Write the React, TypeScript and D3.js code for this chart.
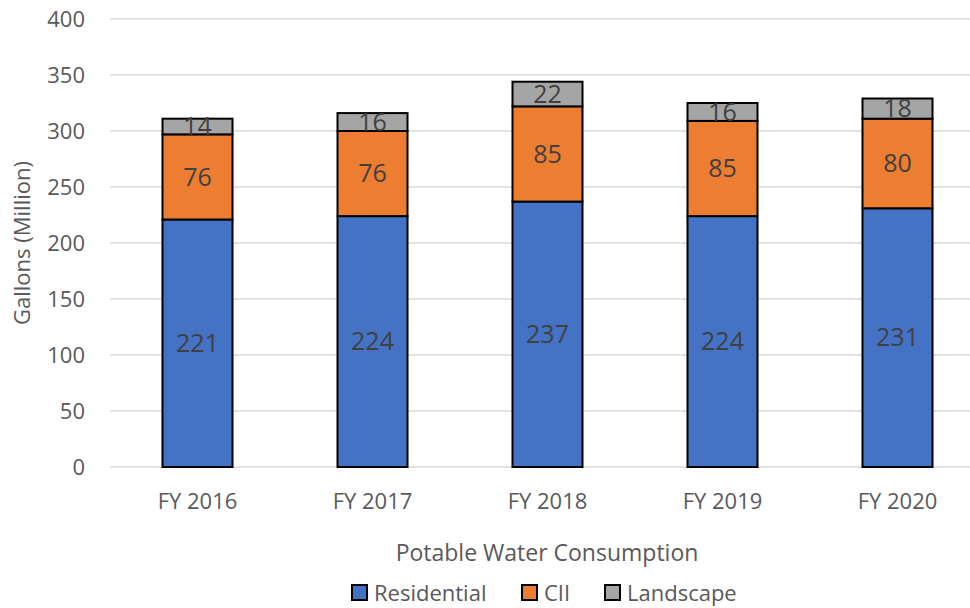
import React from "react";
import * as d3 from "d3";

const categories = ["FY 2016", "FY 2017", "FY 2018", "FY 2019", "FY 2020"];
const residential = [221, 224, 237, 224, 231];
const cii = [76, 76, 85, 85, 80];
const landscape = [14, 16, 22, 16, 18];
const seriesNames = ["Residential", "CII", "Landscape"];
const seriesColors = ["#4472C4", "#ED7D31", "#A5A5A5"];
const yTicks = [0, 50, 100, 150, 200, 250, 300, 350, 400];

const W = 970;
const H = 608;
const FONT = "'Open Sans', 'Noto Sans', sans-serif";

export default function App() {
  const x = d3.scaleBand<string>().domain(categories).range([110, 985]).paddingInner(0.6).paddingOuter(0.3);
  const y = d3.scaleLinear().domain([0, 400]).range([467, 19]);
  const rows = categories.map((c, i) => ({ cat: c, Residential: residential[i], CII: cii[i], Landscape: landscape[i] }));
  const stack = d3.stack<any>().keys(seriesNames)(rows);

  const legendX = [352, 522, 605];

  return (
    <svg width={W} height={H} style={{ position: "absolute", left: 0, top: 0, background: "#fff" }}>
      {yTicks.map((t) => (
        <g key={t}>
          <line x1={110} x2={970} y1={y(t)} y2={y(t)} stroke="#d9d9d9" strokeWidth={1.5} />
          <text x={85} y={y(t)} dy="0.35em" textAnchor="end" fontSize={22} fill="#595959" fontFamily={FONT}>
            {t}
          </text>
        </g>
      ))}
      {stack.map((s, si) => (
        <g key={s.key}>
          {s.map((d, i) => {
            const x0 = x(categories[i])!;
            const top = y(d[1]);
            const bot = y(d[0]);
            const val = d[1] - d[0];
            return (
              <g key={i}>
                <rect x={x0} y={top} width={x.bandwidth()} height={bot - top} fill={seriesColors[si]} stroke="#000" strokeWidth={2} />
                <text x={x0 + x.bandwidth() / 2} y={(top + bot) / 2} dy="0.35em" textAnchor="middle" fontSize={25} fill="#404040" fontFamily={FONT}>
                  {val}
                </text>
              </g>
            );
          })}
        </g>
      ))}
      {categories.map((c) => (
        <text key={c} x={x(c)! + x.bandwidth() / 2} y={501} dy="0.35em" textAnchor="middle" fontSize={22} fill="#595959" fontFamily={FONT}>
          {c}
        </text>
      ))}
      <text transform={`translate(22,243) rotate(-90)`} dy="0.35em" textAnchor="middle" fontSize={22} fill="#595959" fontFamily={FONT}>
        Gallons (Million)
      </text>
      <text x={547} y={553} dy="0.35em" textAnchor="middle" fontSize={23} fill="#595959" fontFamily={FONT}>
        Potable Water Consumption
      </text>
      {seriesNames.map((n, i) => (
        <g key={n}>
          <rect x={legendX[i]} y={585} width={15} height={15} fill={seriesColors[i]} stroke="#000" strokeWidth={2} />
          <text x={legendX[i] + 22} y={593} dy="0.35em" fontSize={22} fill="#595959" fontFamily={FONT}>
            {n}
          </text>
        </g>
      ))}
    </svg>
  );
}
